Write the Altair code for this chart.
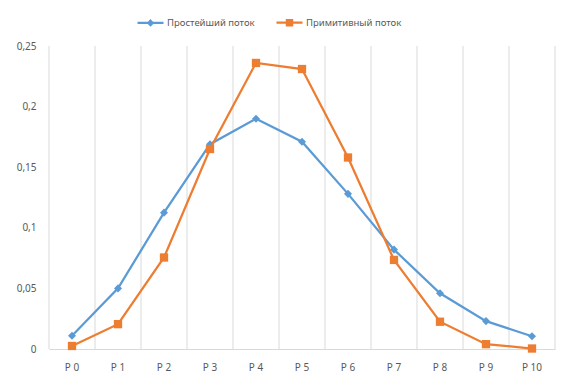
import altair as alt
import pandas as pd

categories = ["P 0", "P 1", "P 2", "P 3", "P 4", "P 5", "P 6", "P 7", "P 8", "P 9", "P 10"]
series_names = ["Простейший поток", "Примитивный поток"]
simple_flow = [0.011, 0.05, 0.1125, 0.169, 0.19, 0.171, 0.128, 0.082, 0.046, 0.023, 0.0105]
primitive_flow = [0.0025, 0.0205, 0.0755, 0.165, 0.236, 0.231, 0.158, 0.0735, 0.0225, 0.004, 0.0004]
y_ticks = [0, 0.05, 0.1, 0.15, 0.2, 0.25]
colors = ["#5B9BD5", "#ED7D31"]
marker_paths = ["M0,-0.31L0.31,0L0,0.31L-0.31,0Z", "M-0.32,-0.32H0.32V0.32H-0.32Z"]
legend_paths = [
    "M-1,0H1M0,-0.17L0.17,0L0,0.17L-0.17,0ZM0,-0.05L0.05,0L0,0.05L-0.05,0Z",
    "M-1,0H1M-0.2,-0.2H0.2V0.2H-0.2ZM-0.08,-0.08H0.08V0.08H-0.08Z",
]

rows = []
for name, vals in zip(series_names, [simple_flow, primitive_flow]):
    for c, v in zip(categories, vals):
        rows.append({"cat": c, "series": name, "value": v})
df = pd.DataFrame(rows)
grid_df = pd.DataFrame({"cat": categories})

FONT = "Noto Sans"
TXT = "#595959"
GRID = "#d9d9d9"

x_scale = alt.Scale(type="band", paddingInner=0, paddingOuter=0)
x_axis = alt.Axis(title=None, labelAngle=0, ticks=False, grid=False, domainColor=GRID,
                  domainWidth=1, labelPadding=13, labelFont=FONT, labelFontSize=10,
                  labelColor=TXT)
y_scale = alt.Scale(domain=[0, 0.25])
y_axis = alt.Axis(title=None, values=y_ticks, domain=False, ticks=False, grid=False,
                  labelPadding=13, labelFont=FONT, labelFontSize=10, labelColor=TXT,
                  labelExpr="replace(format(datum.value, '.2~f'), '.', ',')")
color_scale = alt.Scale(domain=series_names, range=colors)

x_enc = alt.X("cat:N", sort=categories, scale=x_scale, axis=x_axis)
y_enc = alt.Y("value:Q", scale=y_scale, axis=y_axis)

grid = alt.Chart(grid_df).mark_rule(color=GRID, strokeWidth=1).encode(
    x=alt.X("cat:N", sort=categories, scale=x_scale, axis=x_axis, bandPosition=0)
)
grid_end = alt.Chart(grid_df).mark_rule(color=GRID, strokeWidth=1).encode(
    x=alt.X("cat:N", sort=categories, scale=x_scale, axis=x_axis, bandPosition=1)
).transform_filter(alt.datum.cat == categories[-1])

layers = [grid, grid_end]
for i, name in enumerate(series_names):
    sub = alt.Chart(df).transform_filter(alt.datum.series == name)
    layers.append(sub.mark_line(strokeWidth=2.25).encode(
        x=x_enc, y=y_enc,
        color=alt.Color("series:N", scale=color_scale, sort=series_names, legend=None),
    ))
    layers.append(sub.mark_point(filled=True, size=676, opacity=1, strokeWidth=0,
                                 shape=marker_paths[i]).encode(
        x=x_enc, y=y_enc,
        color=alt.Color("series:N", scale=color_scale, sort=series_names, legend=None),
    ))

leg = alt.Legend(orient="none", legendX=87, legendY=-38, direction="horizontal",
                 title=None, symbolSize=676, symbolStrokeWidth=2.25, symbolOpacity=1,
                 labelFont=FONT, labelFontSize=9.5, labelColor=TXT, labelOffset=2,
                 columnPadding=17, padding=0)
# legend-only layer: its points fall outside the y domain and are clipped away
legend_layer = alt.Chart(df).transform_calculate(hidden="-1").mark_point(
    filled=False, size=676, strokeWidth=2.25, opacity=1, clip=True
).encode(
    x=x_enc,
    y=alt.Y("hidden:Q", scale=y_scale, axis=y_axis),
    color=alt.Color("series:N", scale=color_scale, sort=series_names, legend=leg),
    shape=alt.Shape("series:N", scale=alt.Scale(domain=series_names, range=legend_paths),
                    sort=series_names, legend=leg),
)
layers.append(legend_layer)

chart = alt.layer(*layers).resolve_legend(
    color="independent", shape="independent"
).properties(
    width=506, height=303,
    autosize=alt.AutoSizeParams(type="none"),
    padding={"left": 41, "top": 38, "right": 9, "bottom": 32},
    background="white",
).configure_view(stroke=None)

chart.save("out.html", embed_options={"renderer": "svg", "actions": False})
